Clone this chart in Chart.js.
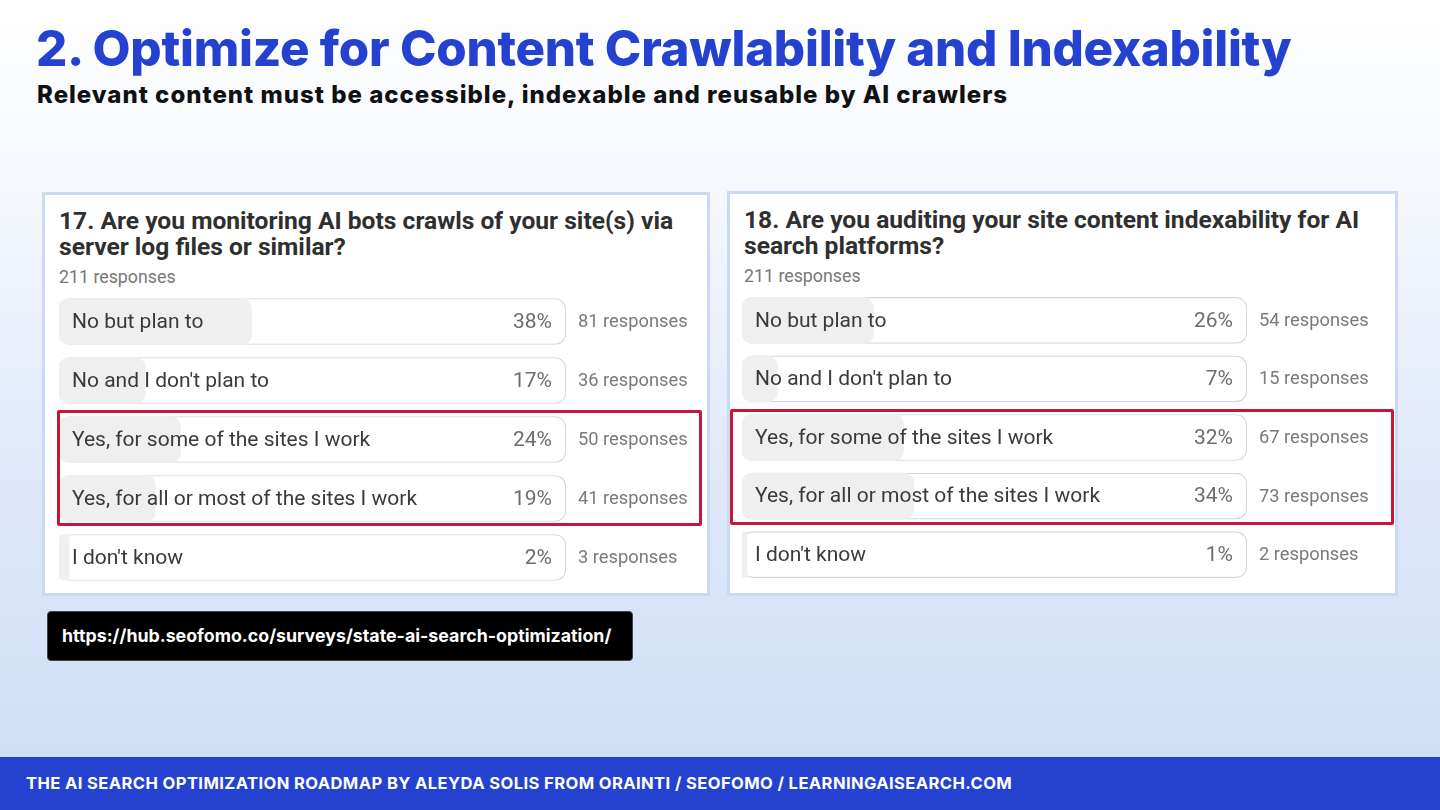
<!DOCTYPE html>
<html>
<head>
<meta charset="utf-8">
<script src="https://cdn.jsdelivr.net/npm/chart.js@4.4.1/dist/chart.umd.min.js"></script>
<style>
  html, body { margin: 0; padding: 0; }
  body {
    width: 1440px; height: 810px; position: relative; overflow: hidden;
    background: linear-gradient(180deg, #ffffff 0%, #f4f7fd 25%, #dfe8f9 60%, #cddcf6 100%);
    font-family: Roboto, "Noto Sans", sans-serif;
  }
  .title {
    position: absolute; left: 36px; top: 18px; margin: 0;
    font-family: Inter, "Noto Sans", sans-serif; font-weight: 800;
    font-size: 49.2px; color: #2541d0; letter-spacing: -0.25px; white-space: nowrap;
  }
  .subtitle {
    position: absolute; left: 37px; top: 80px; margin: 0;
    font-family: Inter, "Noto Sans", sans-serif; font-weight: 800;
    font-size: 24px; color: #111; letter-spacing: 1px; white-space: nowrap;
  }
  .panel {
    position: absolute; background: #fff; border: 3px solid #c9daf4; box-sizing: border-box;
  }
  .panel h2 {
    position: absolute; left: 14px; top: 13px; margin: 0; white-space: nowrap;
    font-weight: 700; font-size: 24.6px; line-height: 26px; color: #2f2f2f;
  }
  .panel .count {
    position: absolute; left: 14px; top: 71px; font-size: 17.8px; color: #777;
  }
  .chartbox { position: absolute; }
  .highlight {
    position: absolute; border: 3px solid #c8163a; box-sizing: border-box; border-radius: 2px;
  }
  .url {
    position: absolute; left: 47px; top: 611px; width: 586px; height: 50px;
    background: #000; border-radius: 4px; box-sizing: border-box; border: 1px solid #444;
    color: #fff; font-family: Inter, "Noto Sans", sans-serif; font-weight: 700; font-size: 17.8px;
    line-height: 48px; padding-left: 14px; white-space: nowrap;
  }
  .footer {
    position: absolute; left: 0; top: 757px; width: 1440px; height: 53px; background: #2541d0;
    color: #fff; font-family: Inter, "Noto Sans", sans-serif; font-weight: 700; font-size: 16.6px;
    letter-spacing: 0.38px; line-height: 53px; padding-left: 26px; box-sizing: border-box; white-space: nowrap;
  }
</style>
</head>
<body>
<h1 class="title">2. Optimize for Content Crawlability and Indexability</h1>
<p class="subtitle">Relevant content must be accessible, indexable and reusable by AI crawlers</p>

<div class="panel" style="left:42px; top:192px; width:668px; height:404px;">
  <h2>17. Are you monitoring AI bots crawls of your site(s) via<br>server log files or similar?</h2>
  <div class="count">211 responses</div>
</div>
<div class="panel" style="left:727px; top:191px; width:671px; height:405px;">
  <h2>18. Are you auditing your site content indexability for AI<br>search platforms?</h2>
  <div class="count">211 responses</div>
</div>

<div class="chartbox" style="left:58px; top:292px; width:643px; height:295px;"><canvas id="q17"></canvas></div>
<div class="chartbox" style="left:741px; top:291px; width:641px; height:293px;"><canvas id="q18"></canvas></div>

<div class="highlight" style="left:57px; top:410px; width:645px; height:116px;"></div>
<div class="highlight" style="left:730px; top:409px; width:664px; height:116px;"></div>

<div class="url">https://hub.seofomo.co/surveys/state-ai-search-optimization/</div>
<div class="footer">THE AI SEARCH OPTIMIZATION ROADMAP BY ALEYDA SOLIS FROM ORAINTI / SEOFOMO / LEARNINGAISEARCH.COM</div>

<script>
// answer options (same for both questions)
const options = [
  'No but plan to',
  "No and I don't plan to",
  'Yes, for some of the sites I work',
  'Yes, for all or most of the sites I work',
  "I don't know"
];

// Q17: monitoring AI bot crawls via log files
const q17Percent = [38, 17, 24, 19, 2];
const q17Responses = [81, 36, 50, 41, 3];

// Q18: auditing content indexability for AI search
const q18Percent = [26, 7, 32, 34, 1];
const q18Responses = [54, 15, 67, 73, 2];

const fullTrack = [100, 100, 100, 100, 100];

// draws option text, percent and response count on each row
const rowText = {
  id: 'rowText',
  afterDatasetsDraw(chart, args, opts) {
    const ctx = chart.ctx;
    const area = chart.chartArea;
    const y = chart.scales.y;
    ctx.save();
    ctx.textBaseline = 'middle';
    chart.data.labels.forEach((label, i) => {
      const py = y.getPixelForValue(i) + 1;
      ctx.font = '21px Roboto';
      ctx.fillStyle = '#3a3a3a';
      ctx.textAlign = 'left';
      ctx.fillText(label, area.left + 13, py);
      ctx.fillStyle = '#6d6d6d';
      ctx.textAlign = 'right';
      ctx.fillText(opts.percent[i] + '%', area.right - 14, py);
      ctx.font = '18.3px Roboto';
      ctx.fillStyle = '#7a7a7a';
      ctx.textAlign = 'left';
      ctx.fillText(opts.responses[i] + ' responses', area.right + 12, py);
    });
    ctx.restore();
  }
};

function renderSurvey(canvasId, percent, responses) {
  const ctx = document.getElementById(canvasId).getContext('2d');
  return new Chart(ctx, {
    type: 'bar',
    data: {
      labels: options,
      datasets: [
        {
          label: 'share',
          data: percent,
          backgroundColor: '#efefef',
          borderWidth: 0,
          borderRadius: 10,
          borderSkipped: false,
          barThickness: 46,
          grouped: false
        },
        {
          label: 'track',
          data: fullTrack,
          backgroundColor: '#ffffff',
          borderColor: '#d6d6d6',
          borderWidth: 1.2,
          borderRadius: 11,
          borderSkipped: false,
          barThickness: 46,
          grouped: false
        }
      ]
    },
    options: {
      indexAxis: 'y',
      responsive: true,
      maintainAspectRatio: false,
      animation: false,
      events: [],
      layout: { padding: { left: 1, right: 135, top: 0, bottom: 0 } },
      plugins: {
        legend: { display: false },
        tooltip: { enabled: false },
        rowText: { percent: percent, responses: responses }
      },
      scales: {
        x: { display: false, min: 0, max: 100 },
        y: { display: false }
      }
    },
    plugins: [rowText]
  });
}

renderSurvey('q17', q17Percent, q17Responses);
renderSurvey('q18', q18Percent, q18Responses);
</script>
</body>
</html>
